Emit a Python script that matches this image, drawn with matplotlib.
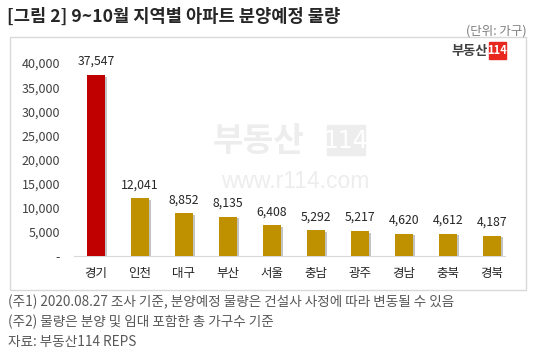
import matplotlib
matplotlib.use("Agg")
import matplotlib.pyplot as plt
import matplotlib.patheffects as pe
from matplotlib.patches import Rectangle

plt.rcParams['font.family'] = ['Noto Sans CJK KR', 'DejaVu Sans']

# data
regions = ["경기", "인천", "대구", "부산", "서울", "충남", "광주", "경남", "충북", "경북"]
units = [37547, 12041, 8852, 8135, 6408, 5292, 5217, 4620, 4612, 4187]
yticks = [0, 5000, 10000, 15000, 20000, 25000, 30000, 35000, 40000]

W, H = 540, 352
fig = plt.figure(figsize=(W / 100, H / 100), dpi=100)

def fx(px):
    return px / W

def fy(py):
    return 1 - py / H

# chart frame
fig.patches.append(Rectangle((fx(10), fy(290)), fx(516), 253 / H, transform=fig.transFigure,
                             fill=False, edgecolor="#D9D9D9", linewidth=1))

# axes: baseline at y=256, x from 74 to 505
ax = fig.add_axes([fx(74), fy(256), fx(431), (256 - 53.4) / H])
ax.set_xlim(-0.5, 9.3)
ax.set_ylim(0, 42000)

colors = ["#C00000"] + ["#BF9000"] * (len(units) - 1)
bars = ax.bar(range(len(regions)), units, width=0.4, color=colors, zorder=3)
for b in bars:
    b.set_path_effects([pe.SimplePatchShadow(offset=(1.8, -1.2), alpha=0.35, shadow_rgbFace="#555555"),
                        pe.Normal()])

for i, v in enumerate(units):
    ax.text(i, v + 1400, f"{v:,}", ha="center", va="bottom", fontsize=8.8, color="#262626")

ax.set_xticks(range(len(regions)))
ax.set_xticklabels(regions, fontsize=9, color="#262626")
ax.set_yticks(yticks)
ax.set_yticklabels(["-"] + [f"{t:,}" for t in yticks[1:]], fontsize=9, color="#404040")
ax.tick_params(length=0, pad=8)
ax.tick_params(axis="y", pad=10)
for s in ["top", "right", "left"]:
    ax.spines[s].set_visible(False)
ax.spines["bottom"].set_color("#D9D9D9")

# watermark
wm = "#EDEDED"
fig.text(fx(213), fy(142), "부동산", fontsize=24, fontweight="black", color=wm,
         ha="left", va="center")
fig.patches.append(Rectangle((fx(327), fy(155)), fx(38), 30 / H, transform=fig.transFigure,
                             color=wm, zorder=0))
fig.text(fx(346), fy(140.5), "114", fontsize=17, color="white", ha="center", va="center",
         family="Liberation Sans Narrow")
fig.text(fx(295), fy(181), "www.r114.com", fontsize=16.5, color=wm, ha="center", va="center",
         family="Liberation Sans")

# logo
fig.text(fx(488), fy(51), "부동산", fontsize=9.5, fontweight="bold", color="#404040",
         ha="right", va="center")
fig.patches.append(Rectangle((fx(489), fy(59)), fx(17), 17 / H, transform=fig.transFigure,
                             color="#E8281E", zorder=5))
fig.text(fx(497.5), fy(50.5), "114", fontsize=8, fontweight="bold", color="white",
         ha="center", va="center", zorder=6)

# title and notes
fig.text(fx(7), fy(17), "[그림 2] 9~10월 지역별 아파트 분양예정 물량", fontsize=12.7,
         fontweight="bold", color="#262626", ha="left", va="center")
fig.text(fx(527), fy(31), "(단위: 가구)", fontsize=9, color="#7F7F7F", ha="right", va="center")

notes = ["(주1) 2020.08.27 조사 기준, 분양예정 물량은 건설사 사정에 따라 변동될 수 있음",
         "(주2) 물량은 분양 및 임대 포함한 총 가구수 기준",
         "자료: 부동산114 REPS"]
for k, n in enumerate(notes):
    fig.text(fx(8), fy(302 + 20 * k), n, fontsize=9.8, color="#595959", ha="left", va="center")

fig.savefig("out.png", dpi=100)
